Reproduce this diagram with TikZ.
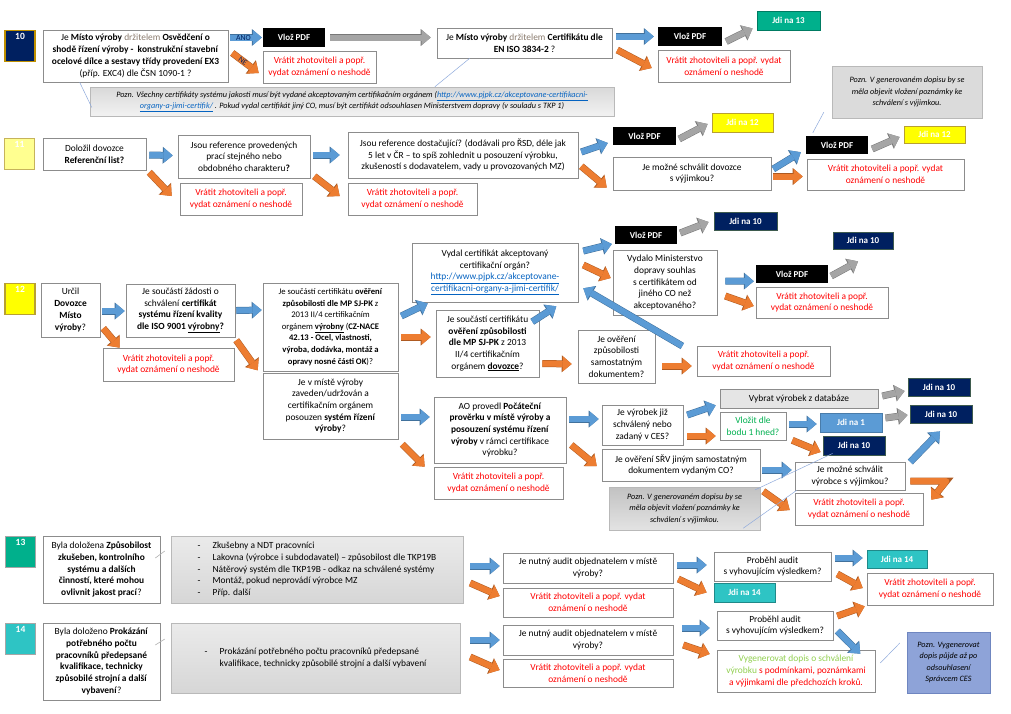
\documentclass[tikz,border=0pt]{standalone}
\usepackage{fontspec}
\setmainfont{Carlito}
\usepackage{xcolor}
\usepackage{tikz}
\usetikzlibrary{arrows.meta,calc}
\definecolor{boxEdge}{HTML}{8C8C8C}
\definecolor{retRed}{HTML}{FF0000}
\definecolor{arrBlue}{HTML}{5B9BD5}
\definecolor{arrBlueEdge}{HTML}{41719C}
\definecolor{arrOrange}{HTML}{ED7D31}
\definecolor{arrOrangeEdge}{HTML}{AE5A21}
\definecolor{arrGray}{HTML}{A5A5A5}
\definecolor{arrGrayEdge}{HTML}{787878}
\definecolor{goNavy}{HTML}{002060}
\definecolor{goNavyEdge}{HTML}{3E5B4E}
\definecolor{goGreen}{HTML}{00B08C}
\definecolor{goTeal}{HTML}{2EC4C4}
\definecolor{goYellow}{HTML}{FFFF00}
\definecolor{goYellowEdge}{HTML}{B8A032}
\definecolor{paleYellow}{HTML}{FFFF90}
\definecolor{goldEdge}{HTML}{BF9000}
\definecolor{linkBlue}{HTML}{0563C1}
\definecolor{mutedText}{HTML}{8A7B6E}
\definecolor{okGreen}{HTML}{00B050}
\definecolor{lightGreen}{HTML}{92D050}
\definecolor{noteBlue}{HTML}{8EA3D8}
\definecolor{noteBlueEdge}{HTML}{6F86C0}
\definecolor{calloutLine}{HTML}{8FAADC}
\newcommand{\weblink}[1]{\textcolor{linkBlue}{\underline{#1}}}
\newcommand{\dashitem}{\makebox[15pt][l]{-}}

\begin{document}
\begin{tikzpicture}[
    x=1pt, y=-1pt,
    base/.style={font=\fontsize{9.4}{11.7}\selectfont, align=center, inner sep=1pt},
    wh/.style 2 args={minimum width=#1pt, minimum height=#2pt},
    qbox/.style={base, draw=boxEdge, fill=white, line width=0.6pt},
    retbox/.style={qbox, text=retRed},
    pdfbox/.style={base, fill=black, text=white,
                   font=\fontsize{9}{11}\selectfont\bfseries},
    gobox/.style={base, line width=0.8pt, text=white,
                  font=\fontsize{9}{11}\selectfont\bfseries},
    navyGo/.style={gobox, fill=goNavy, draw=goNavyEdge},
    greenGo/.style={gobox, fill=goGreen, draw=goGreen!70!black},
    tealGo/.style={gobox, fill=goTeal, draw=goTeal!70!black},
    yellowGo/.style={gobox, fill=goYellow, draw=goYellowEdge},
    blueGo/.style={gobox, fill=arrBlue, draw=arrBlue!80!black},
    stepnum/.style={minimum width=30pt, minimum height=31pt, line width=1.2pt, inner sep=0pt},
    numlbl/.style={anchor=north, yshift=-3pt, text=white, inner sep=0pt,
                   font=\fontsize{9.5}{10}\selectfont\bfseries},
    note/.style={base, draw=gray!55, font=\fontsize{8.2}{11.5}\selectfont\itshape},
    listbox/.style={base, draw=gray!55, top color=gray!16, bottom color=gray!32,
                    font=\fontsize{9.4}{11.7}\selectfont, align=left},
    arr/.style={line width=6pt, -{Triangle[length=9pt, width=15pt, line width=0pt]}},
    blueArr/.style={arr, draw=arrBlue, preaction={draw=arrBlueEdge, line width=7pt,
                    -{Triangle[length=10pt, width=17pt, line width=0pt]}}},
    orangeArr/.style={arr, draw=arrOrange, preaction={draw=arrOrangeEdge, line width=7pt,
                      -{Triangle[length=10pt, width=17pt, line width=0pt]}}},
    grayArr/.style={arr, draw=arrGray, preaction={draw=arrGrayEdge, line width=7pt,
                    -{Triangle[length=10pt, width=17pt, line width=0pt]}}},
    arrlbl/.style={font=\fontsize{7.8}{8}\selectfont, text=goNavy, inner sep=0pt},
    callout/.style={draw=calloutLine, line width=0.5pt},
    tinyLine/.style={draw=gray!60, line width=0.6pt}]

    \useasboundingbox (0,0) rectangle (1011,713);
    \fill[white] (0,0) rectangle (1011,713);

    % 10
    \node[stepnum, fill=goNavy, draw=goldEdge, label={[numlbl]north:10}] (n10) at (20,46) {};
    \node[qbox, wh={185}{52}] (q10a) at (135.5,56)
      {Je \textbf{Místo výroby} \textcolor{mutedText}{držitelem} \textbf{Osvědčení o}\\
       \textbf{shodě řízení výroby -\ \ konstrukční stavební}\\
       \textbf{ocelové dílce a sestavy třídy provedení EX3}\\
       (příp. EXC4) dle ČSN 1090-1 ?};
    \node[pdfbox, wh={62}{19}] (pdf10a) at (294,37.5) {Vlož PDF};
    \node[retbox, wh={113}{32}] (r10a) at (319.5,67) {Vrátit zhotoviteli a popř.\\ vydat oznámení o neshodě};
    \node[qbox, wh={175}{30}] (q10b) at (524.5,43)
      {Je \textbf{Místo výroby} \textcolor{mutedText}{držitelem} \textbf{Certifikátu dle}\\
       \textbf{EN ISO 3834-2} ?};
    \node[pdfbox, wh={64}{19}] (pdf10b) at (690,36.5) {Vlož PDF};
    \node[greenGo, wh={63}{19}] (jdi13) at (788.5,20.5) {Jdi na 13};
    \node[retbox, wh={132}{32}] (r10b) at (724,66) {Vrátit zhotoviteli a popř. vydat\\ oznámení o neshodě};
    \node[note, top color=gray!30, bottom color=gray!10, wh={524}{29}] (note10) at (352,101.5)
      {Pozn. Všechny certifikáty systému jakosti musí být vydané akceptovaným certifikačním orgánem (\weblink{http://www.pjpk.cz/akceptovane-certifikacni-}\\
       \weblink{organy-a-jimi-certifik/} . Pokud vydal certifikát jiný CO, musí být certifikát odsouhlasen Ministerstvem dopravy (v souladu s TKP 1)};

    \draw[blueArr] ($(q10a.east |- pdf10a.west)+(2,0)$) -- ($(pdf10a.west)+(-1,0)$) node[arrlbl, pos=0.42] {ANO};
    \draw[orangeArr] ($(q10a.east)+(4,-3)$) -- ($(r10a.west)+(-4,6)$) node[arrlbl, pos=0.4, sloped] {NE};
    \draw[grayArr] ($(pdf10a.east)+(5,0)$) -- ($(pdf10a.east -| q10b.west)+(-6,0)$);
    \draw[blueArr] ($(q10b.east |- pdf10b.west)+(4,0)$) -- ($(pdf10b.west)+(-4,0)$);
    \draw[grayArr] ($(pdf10b.east)+(4,5)$) -- ($(jdi13.south west)+(-4,-2)$);
    \draw[orangeArr] ($(q10b.east)+(5,7)$) -- ($(r10b.west)+(-6,2)$);
    \draw[callout] ($(q10a.south west)+(37,0)$) -- ($(note10.west)+(2,6)$);
    \draw[callout] ($(q10b.south west)+(33,0)$) -- ($(note10.north west)+(345,0)$);

    % 11
    \node[stepnum, fill=paleYellow, draw=goYellowEdge!80, label={[numlbl]north:11}] (n11) at (19.5,154) {};
    \node[qbox, wh={103}{32}] (q11a) at (94.5,154) {Doložil dovozce\\ \textbf{Referenční list?}};
    \node[qbox, wh={132}{43}] (q11b) at (244,156.5)
      {Jsou reference provedených\\ prací stejného nebo\\ obdobného charakteru\textbf{?}};
    \node[retbox, wh={122}{32}] (r11a) at (241,199) {Vrátit zhotoviteli a popř.\\ vydat oznámení o neshodě};
    \node[qbox, wh={230}{46}] (q11c) at (463,155)
      {Jsou reference dostačující? (dodávali pro ŘSD, déle jak\\
       5 let v ČR – to spíš zohlednit u posouzení výrobku,\\
       zkušeností s dodavatelem, vady u provozovaných MZ)};
    \node[retbox, wh={129}{32}] (r11b) at (412.5,199) {Vrátit zhotoviteli a popř.\\ vydat oznámení o neshodě};
    \node[pdfbox, wh={63}{18}] (pdf11a) at (644.5,136) {Vlož PDF};
    \node[yellowGo, wh={61}{19}] (jdi12a) at (742.5,122.5) {Jdi na 12};
    \node[qbox, wh={158}{33}] (q11d) at (692,173.5) {Je možné schválit dovozce\\ s výjimkou?};
    \node[pdfbox, wh={62}{18}] (pdf11b) at (837,145) {Vlož PDF};
    \node[yellowGo, wh={61}{17}] (jdi12b) at (934.5,134.5) {Jdi na 12};
    \node[retbox, wh={157}{31}] (r11c) at (885.5,174.5) {Vrátit zhotoviteli a popř. vydat\\ oznámení o neshodě};
    \node[note, fill=gray!28, wh={150}{52}] (note11) at (907,92)
      {Pozn. V generovaném dopisu by se\\ měla objevit vložení poznámky ke\\ schválení s výjimkou.};

    \draw[blueArr] ($(q11a.east)+(3,1)$) -- ($(q11b.west)+(-5,-1)$);
    \draw[orangeArr] ($(q11a.south east)+(3,2)$) -- ($(r11a.west)+(-8,-3)$);
    \draw[blueArr] ($(q11b.east)+(3,-1.5)$) -- ($(q11c.west)+(-8,0)$);
    \draw[orangeArr] ($(q11b.south east)+(4,-2)$) -- ($(r11b.west)+(-8,-3)$);
    \draw[blueArr] ($(q11c.east)+(3,-3)$) -- ($(pdf11a.west)+(-5,7)$);
    \draw[orangeArr] ($(q11c.south east)+(3,-12)$) -- ($(q11d.west)+(-6,14)$);
    \draw[grayArr] ($(pdf11a.east)+(3,3)$) -- ($(jdi12a.west)+(-4,1.5)$);
    \draw[blueArr] ($(q11d.east)+(2,-4.5)$) -- ($(pdf11b.south west)+(-5,-2)$);
    \draw[orangeArr] ($(q11d.east)+(2,3)$) -- ($(r11c.west |- q11d.east)+(-4,3)$);
    \draw[grayArr] ($(pdf11b.east)+(4,4)$) -- ($(jdi12b.west)+(-4,2.5)$);
    \draw[callout] ($(pdf11b.north west)+(7,-3)$) -- ($(note11.south west)+(-8,-6)$);

    % 12
    \node[stepnum, fill=goYellow, draw=goYellowEdge, label={[numlbl]north:12}] (n12) at (20,299) {};
    \node[qbox, wh={59}{54}] (q12a) at (70.5,310) {Určil\\ \textbf{Dovozce}\\ \textbf{Místo}\\ \textbf{výroby}?};
    \node[qbox, wh={109}{53}] (q12b) at (180.5,310.5)
      {Je součástí žádosti o\\ schválení \textbf{certifikát}\\ \textbf{systému řízení kvality}\\
       \textbf{dle ISO 9001 \underline{výrobny}?}};
    \node[retbox, wh={131}{33}] (r12a) at (168.5,364.5) {Vrátit zhotoviteli a popř.\\ vydat oznámení o neshodě};
    \node[qbox, wh={135}{88}, font=\fontsize{8.6}{11.6}\selectfont] (q12c) at (330.5,327)
      {Je součástí certifikátu \textbf{ověření}\\ \textbf{způsobilosti dle MP SJ-PK} z\\
       2013 II/4 certifikačním\\ orgánem \textbf{\underline{výrobny}} (\textbf{CZ-NACE}\\
       \textbf{42.13 - Ocel, vlastnosti,}\\ \textbf{výroba, dodávka, montáž a}\\
       \textbf{opravy nosné části OK})?};
    \node[qbox, wh={135}{66}] (q12d) at (330.5,406)
      {Je v místě výroby\\ zaveden/udržován a\\ certifikačním orgánem\\
       posouzen \textbf{systém řízení}\\ \textbf{výroby}?};
    \node[qbox, wh={166}{59}] (q12e) at (495,272.5)
      {Vydal certifikát akceptovaný\\ certifikační orgán?\\
       \weblink{http://www.pjpk.cz/akceptovane-}\\ \weblink{certifikacni-organy-a-jimi-certifik/}};
    \node[qbox, wh={103}{67}] (q12f) at (487.5,343.5)
      {Je součástí certifikátu\\ \textbf{ověření způsobilosti}\\ \textbf{dle MP SJ-PK} z 2013\\
       II/4 certifikačním\\ orgánem \textbf{\underline{dovozce}}?};
    \node[qbox, wh={77}{53}] (q12g) at (616.5,356.5) {Je ověření\\ způsobilosti\\ samostatným\\ dokumentem?};
    \node[retbox, wh={133}{30}] (r12c) at (763.5,361) {Vrátit zhotoviteli a popř.\\ vydat oznámení o neshodě};
    \node[pdfbox, wh={62}{18}] (pdf12a) at (646,235) {Vlož PDF};
    \node[navyGo, wh={63}{18}] (jdi10a) at (745.5,221) {Jdi na 10};
    \node[qbox, wh={104}{65}] (q12h) at (665,282.5)
      {Vydalo Ministerstvo\\ dopravy souhlas\\ s certifikátem od\\ jiného CO než\\ akceptovaného?};
    \node[pdfbox, wh={72}{18}] (pdf12b) at (792,274) {Vlož PDF};
    \node[navyGo, wh={60}{17}] (jdi10b) at (863,240.5) {Jdi na 10};
    \node[retbox, wh={132}{31}] (r12b) at (822,302.5) {Vrátit zhotoviteli a popř.\\ vydat oznámení o neshodě};
    \node[qbox, wh={132}{66}] (q12i) at (500,430)
      {AO provedl \textbf{Počáteční}\\ \textbf{prověrku v místě výroby a}\\
       \textbf{posouzení systému řízení}\\ \textbf{výroby} v rámci certifikace\\ výrobku?};
    \node[retbox, wh={129}{32}] (r12d) at (498.5,483) {Vrátit zhotoviteli a popř.\\ vydat oznámení o neshodě};
    \node[qbox, wh={81}{40}] (q12j) at (642.5,425) {Je výrobek již\\ schválený nebo\\ zadaný v CES?};
    \node[qbox, wh={158}{32}] (q12k) at (681,465) {Je ověření SŘV jiným samostatným\\ dokumentem vydaným CO?};
    \node[qbox, fill=gray!20, wh={158}{19}] (db) at (799,398.5) {Vybrat výrobek z databáze};
    \node[qbox, text=okGreen, wh={66}{28}] (vloz) at (753,426) {Vložit dle\\ bodu 1 hned?};
    \node[navyGo, wh={62}{18}] (jdi10c) at (939,387) {Jdi na 10};
    \node[blueGo, wh={62}{19}] (jdi1) at (851,422.5) {Jdi na 1};
    \node[navyGo, wh={62}{18}] (jdi10d) at (941,414) {Jdi na 10};
    \node[navyGo, wh={62}{19}] (jdi10e) at (854,445.5) {Jdi na 10};
    \node[qbox, wh={110}{28}] (q12l) at (850,476) {Je možné schválit\\ výrobce s výjimkou?};
    \node[retbox, wh={128}{32}] (r12e) at (859,509) {Vrátit zhotoviteli a popř.\\ vydat oznámení o neshodě};
    \node[note, top color=gray!48, bottom color=gray!22, wh={151}{43}] (note12) at (684.5,508.5)
      {Pozn. V generovaném dopisu by se\\ měla objevit vložení poznámky ke\\ schválení s výjimkou.};

    \draw[blueArr] ($(q12a.east)+(2,1)$) -- ($(q12b.west)+(-1,0.5)$);
    \draw[orangeArr] ($(q12a.south east)+(3,-9)$) -- ($(r12a.north west)+(17,0)$);
    \draw[blueArr] ($(q12b.east)+(1,0)$) -- ($(q12c.west)+(-1,-17)$);
    \draw[orangeArr] ($(q12b.south east)+(1,3)$) -- ($(q12c.south west)+(-5,-1)$);
    \draw[blueArr] ($(q12c.east)+(3,-11)$) -- ($(q12e.south west)+(16,1)$);
    \draw[orangeArr] ($(q12c.east)+(3,10)$) -- ($(q12f.west)+(-5,-6.5)$);
    \draw[blueArr] ($(q12f.north east)+(-7,12)$) -- ($(q12e.south east)+(-22,4)$);
    \draw[orangeArr] ($(q12f.east)+(3,20)$) -- ($(q12g.west)+(-6,7.5)$);
    \draw[blueArr] ($(q12g.east)+(27,-10.5)$) -- ($(q12e.south east)+(5,-14)$);
    \draw[orangeArr] ($(q12g.east)+(7,9.5)$) -- ($(r12c.west)+(-5,5)$);
    \draw[blueArr] ($(q12e.east)+(5,-21.5)$) -- ($(pdf12a.west)+(-3,9)$);
    \draw[orangeArr] ($(q12e.east)+(5,-7.5)$) -- ($(q12h.west)+(-2,-4.5)$);
    \draw[grayArr] ($(pdf12a.east)+(3,-2)$) -- ($(jdi10a.west)+(-5,1)$);
    \draw[blueArr] ($(q12h.east)+(8,-1.5)$) -- ($(pdf12b.south west)+(-2,-2)$);
    \draw[orangeArr] ($(q12h.east)+(8,13.5)$) -- ($(r12b.west)+(-2,3.5)$);
    \draw[grayArr] ($(pdf12b.east)+(3,2)$) -- ($(jdi10b.south)+(-5,12)$);

    \draw[blueArr] ($(q12d.east)+(3,11)$) -- ($(q12i.west)+(-4,-13)$);
    \draw[orangeArr] ($(q12d.south east)+(4,5)$) -- ($(r12d.north west)+(-9,0)$);
    \draw[blueArr] ($(q12i.east)+(3,-11)$) -- ($(q12j.west)+(-3,-6)$);
    \draw[orangeArr] ($(q12i.east)+(5,15)$) -- ($(q12k.west)+(-5,1)$);
    \draw[blueArr] ($(q12j.east)+(4,-10)$) -- ($(db.south west)+(-4,-3)$);
    \draw[orangeArr] ($(q12j.east)+(4,11)$) -- ($(vloz.west)+(-4,10)$);
    \draw[grayArr] ($(db.east)+(4,-2.5)$) -- ($(jdi10c.west)+(-3,4)$);
    \draw[blueArr] ($(vloz.east)+(3,-2)$) -- ($(jdi1.west)+(-3,1.5)$);
    \draw[grayArr] ($(jdi1.east)+(3,-4.5)$) -- ($(jdi10d.west)+(-2,1)$);
    \draw[orangeArr] ($(vloz.south east)+(6,0)$) -- ($(jdi10e.west)+(-2,6.5)$);
    \draw[blueArr] ($(q12k.east)+(2,5)$) -- ($(q12l.west)+(-3,-6)$);
    \draw[blueArr] ($(q12l.east)+(5,-14)$) -- ($(jdi10d.south)+(-1,8)$);
    \draw[orangeArr] ($(q12k.south east)+(3,10)$) -- ($(r12e.west)+(-5,1)$);
    \draw[orangeArr, line join=round] ($(q12l.east)+(5,5)$) -- ++(36,0) -- ($(r12e.north east)+(8,7)$);
    \draw[callout] ($(note12.north east)+(-5,3)$) -- ($(jdi10e.south west)+(10,-2)$);
    \draw[callout] ($(note12.south east)+(-17,-2)$) -- ($(q12l.south west)+(2,0)$);

    % 13
    \node[stepnum, fill=goGreen, draw=gray!70, label={[numlbl]north:13}] (n13) at (20.5,552) {};
    \node[qbox, wh={117}{67}] (q13a) at (101.5,569.5)
      {Byla doložena \textbf{Způsobilost}\\ \textbf{zkušeben, kontrolního}\\ \textbf{systému a dalších}\\
       \textbf{činností, které mohou}\\ \textbf{ovlivnit jakost prací}?};
    \node[listbox, wh={292}{67}] (list13) at (317,569.5)
      {\dashitem Zkušebny a NDT pracovníci\\
       \dashitem Lakovna (výrobce i subdodavatel) – způsobilost dle TKP19B\\
       \dashitem Nátěrový systém dle TKP19B - odkaz na schválené systémy\\
       \dashitem Montáž, pokud neprovádí výrobce MZ\\
       \dashitem Příp. další};
    \node[qbox, wh={170}{30}] (q13b) at (588,568) {Je nutný audit objednatelem v místě\\ výroby?};
    \node[retbox, wh={170}{29}] (r13a) at (588,602.5) {Vrátit zhotoviteli a popř. vydat\\ oznámení o neshodě};
    \node[qbox, wh={117}{29}] (q13c) at (772.5,566.5) {Proběhl audit\\ s vyhovujícím výsledkem?};
    \node[tealGo, wh={61}{19}] (jdi14a) at (744.5,592.5) {Jdi na 14};
    \node[tealGo, wh={60}{18}] (jdi14b) at (897,559) {Jdi na 14};
    \node[retbox, wh={126}{32}] (r13b) at (930,589) {Vrátit zhotoviteli a popř.\\ vydat oznámení o neshodě};

    \draw[tinyLine] ($(q13a.east)+(-5,-11.5)$) -- ($(list13.west)+(-6,-18.5)$);
    \draw[blueArr] ($(list13.east)+(7,-3.5)$) -- ($(q13b.west)+(-3,-2)$);
    \draw[orangeArr] ($(list13.east)+(7,13.5)$) -- ($(r13a.west)+(-3,-6.5)$);
    \draw[blueArr] ($(q13b.east)+(4,-3)$) -- ($(q13c.west)+(-7,-1.5)$);
    \draw[orangeArr] ($(q13b.east)+(5,11)$) -- ($(jdi14a.west)+(-7,0)$);
    \draw[blueArr] ($(q13c.east)+(4,-8.5)$) -- ($(jdi14b.west)+(-4,-1)$);
    \draw[orangeArr] ($(q13c.east)+(6,7.5)$) -- ($(r13b.west)+(-4,-1)$);

    % 14
    \node[stepnum, fill=goTeal, draw=gray!70, label={[numlbl]north:14}] (n14) at (20.5,639) {};
    \node[qbox, wh={117}{77}] (q14a) at (101.5,661.5)
      {Byla doloženo \textbf{Prokázání}\\ \textbf{potřebného počtu}\\ \textbf{pracovníků předepsané}\\
       \textbf{kvalifikace, technicky}\\ \textbf{způsobilé strojní a další}\\ \textbf{vybavení}?};
    \node[listbox, wh={289}{70}] (list14) at (315.5,658)
      {\dashitem Prokázání potřebného počtu pracovníků předepsané\\
       \hspace*{15pt}kvalifikace, technicky způsobilé strojní a další vybavení};
    \node[qbox, wh={170}{30}] (q14b) at (588,640) {Je nutný audit objednatelem v místě\\ výroby?};
    \node[retbox, wh={170}{28}] (r14a) at (588,673) {Vrátit zhotoviteli a popř. vydat\\ oznámení o neshodě};
    \node[qbox, wh={116}{29}] (q14c) at (775,625.5) {Proběhl audit\\ s vyhovujícím výsledkem?};
    \node[qbox, wh={158}{42}] (final) at (796,671)
      {\textcolor{lightGreen}{Vygenerovat dopis o schválení}\\
       \textcolor{lightGreen}{výrobku} \textcolor{retRed}{s podmínkami, poznámkami}\\
       \textcolor{retRed}{a výjimkami dle předchozích kroků.}};
    \node[note, fill=noteBlue, draw=noteBlueEdge, wh={83}{61}] (note14) at (948.5,662.5)
      {Pozn. Vygenerovat\\ dopis půjde až po\\ odsouhlasení\\ Správcem CES};

    \draw[tinyLine] ($(q14a.east)+(-5,-16.5)$) -- ($(list14.west)+(-6,-19)$);
    \draw[blueArr] ($(list14.east)+(10,-18)$) -- ($(q14b.west)+(-3,0)$);
    \draw[orangeArr] ($(list14.east)+(10,-1)$) -- ($(r14a.west)+(-3,-3)$);
    \draw[blueArr] ($(q14b.east)+(9,-12)$) -- ($(q14c.west)+(-7,2.5)$);
    \draw[orangeArr] ($(q14b.east)+(10,5)$) -- ($(final.west)+(-7,-17)$);
    \draw[orangeArr] ($(q14c.east)+(4,-9.5)$) -- ($(r13b.south west)+(-2,1)$);
    \draw[blueArr] ($(q14c.east)+(4,5.5)$) -- ($(final.north east)+(-15,4)$);
    \draw[callout] ($(final.east)+(5,-8)$) -- ($(note14.west)+(-7,-19.5)$);
\end{tikzpicture}
\end{document}
